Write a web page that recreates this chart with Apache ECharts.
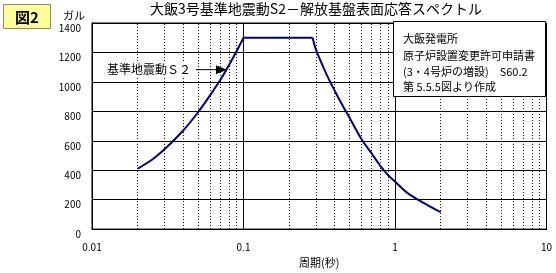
<!DOCTYPE html>
<html><head><meta charset="utf-8">
<script src="https://cdn.jsdelivr.net/npm/echarts@6/dist/echarts.min.js"></script>
<style>html,body{margin:0;padding:0;background:#fff}#c{width:556px;height:273px}</style>
</head><body><div id="c"></div>
<script>
// Data
const periods = [0.02,0.025,0.03,0.04,0.05,0.06,0.07,0.08,0.09,0.1,0.286,0.3,0.35,0.4,0.45,0.5,0.6,0.7,0.8,0.9,1.0,1.2,1.5,2.0];
const accel   = [410,473,540,670,792,907,1011,1112,1208,1300,1300,1222,1060,940,841,758,612,515,430,367,323,248,185,115];
const xTickLabels = ['0.01','0.1','1','10'];
const minorPeriods = [0.02,0.03,0.04,0.05,0.06,0.07,0.08,0.09,0.2,0.3,0.4,0.5,0.6,0.7,0.8,0.9,2,3,4,5,6,7,8,9];
const titleText = '大飯3号基準地震動S2－解放基盤表面応答スペクトル';
const noteLines = ['大飯発電所','原子炉設置変更許可申請書','(3・4号炉の増設)　S60.2','第 5.5.5図より作成'];
const arrowLabel = '基準地震動Ｓ２';
const arrowAnchor = [0.0778, 1083];

const FONT = "'Noto Sans CJK JP', 'Noto Sans', sans-serif";
const pts = periods.map((p,i)=>[p,accel[i]]);
// segments: rising branch, flat plateau, falling branch (corners kept sharp)
const rise = pts.slice(0,10), flat = pts.slice(9,11), fall = pts.slice(10);
const lineSeries = (d, smooth) => ({type:'line', data:d, symbol:'none', smooth:smooth,
  lineStyle:{color:'#000080', width:2}, z:5});

const chart = echarts.init(document.getElementById('c'), null, {renderer:'canvas'});
chart.setOption({
  backgroundColor:'#fff',
  animation:false,
  textStyle:{fontFamily:FONT},
  grid:{left:92, right:9.5, top:23, bottom:27, show:true, borderColor:'#000', borderWidth:1},
  xAxis:{
    type:'log', logBase:10, min:0.01, max:10,
    axisLine:{lineStyle:{color:'#000', width:1}},
    axisTick:{show:false},
    axisLabel:{color:'#000', fontSize:10, margin:13, fontFamily:FONT, formatter:(v,i)=>xTickLabels[i]},
    splitLine:{show:true, lineStyle:{color:'#000', width:1}},
    name:'周期(秒)', nameLocation:'middle', nameGap:19,
    nameTextStyle:{color:'#000', fontSize:11, fontFamily:FONT}
  },
  yAxis:{
    type:'value', min:0, max:1400, interval:200,
    axisLine:{show:true, lineStyle:{color:'#000', width:1}},
    axisTick:{show:false},
    axisLabel:{color:'#000', fontSize:10, margin:11, verticalAlign:'top', fontFamily:FONT, formatter:v=>String(v)},
    splitLine:{show:true, lineStyle:{color:'#000', width:1}}
  },
  series:[
    Object.assign(lineSeries(rise, 0.3), {
      markLine:{
        silent:true, symbol:'none', label:{show:false},
        lineStyle:{color:'#000', width:1, type:[1,2]},
        data:minorPeriods.map(p=>({xAxis:p}))
      }
    }),
    lineSeries(flat, false),
    lineSeries(fall, 0.3)
  ]
});

const tip = chart.convertToPixel({gridIndex:0}, arrowAnchor);
const ty = tip[1];
const tx = tip[0];
chart.setOption({
  graphic:[
    {type:'rect', shape:{x:3.5, y:4.5, width:47, height:24}, style:{fill:'#ffff99', stroke:'#8c8c5a', lineWidth:1}},
    {type:'text', x:27, y:17, style:{text:'図2', font:'bold 15px '+FONT, fill:'#000', textAlign:'center', textVerticalAlign:'middle'}},
    {type:'text', x:63, y:16, style:{text:'ガル', font:'11px '+FONT, fill:'#000', textAlign:'left', textVerticalAlign:'middle'}},
    {type:'text', x:316, y:9, style:{text:titleText, font:'14px '+FONT, fill:'#000', textAlign:'center', textVerticalAlign:'middle'}},
    {type:'rect', shape:{x:393.5, y:21.5, width:152, height:75}, style:{fill:'#fff', stroke:'#000', lineWidth:1}, z:100},
    ...noteLines.map((t,i)=>({type:'text', x:403, y:[39,56,71.5,86.5][i], z:101,
      style:{text:t, font:'11px '+FONT, fill:'#000', textAlign:'left', textVerticalAlign:'middle'}})),
    {type:'rect', shape:{x:108, y:ty-8, width:84, height:16}, style:{fill:'#fff'}, z:100},
    {type:'text', x:191, y:ty, z:101, style:{text:arrowLabel, font:'12px '+FONT, fill:'#000', textAlign:'right', textVerticalAlign:'middle'}},
    {type:'line', shape:{x1:196, y1:ty, x2:tx-8, y2:ty}, style:{stroke:'#000', lineWidth:1}, z:101},
    {type:'polygon', shape:{points:[[tx-11,ty-4.5],[tx,ty],[tx-11,ty+4.5]]}, style:{fill:'#000'}, z:101}
  ]
});
</script></body></html>
